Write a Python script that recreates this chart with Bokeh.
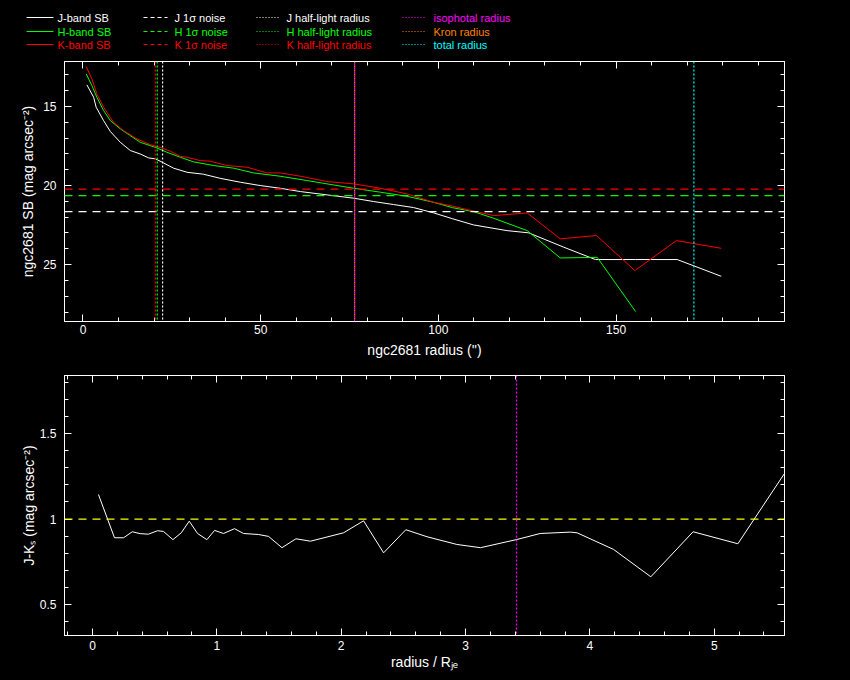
from bokeh.plotting import figure
from bokeh.models import (Range1d, Span, LinearAxis, SingleIntervalTicker,
                          PrintfTickFormatter, CustomJSTickFormatter, ColumnDataSource)
from bokeh.layouts import column
from bokeh.embed import file_html
from bokeh.resources import INLINE
from bokeh.core.properties import value

# ---------------- data ----------------
j_r = [1.1, 3.0, 3.7, 5.8, 7.7, 10.5, 13.3, 16.1, 18.5, 20.4, 22.7, 25.5, 29.3, 33.9,
       38.6, 44.3, 49.9, 55.5, 61.2, 68.7, 76.2, 81.8, 87.4, 93.0, 98.7, 104.0, 109.9,
       119.3, 125.4, 135.3, 144.2, 155.5, 167.2, 179.6]
j_sb = [13.63, 14.41, 15.04, 15.89, 16.58, 17.26, 17.78, 18.0, 18.25, 18.31, 18.57, 18.9,
        19.16, 19.28, 19.54, 19.79, 20.0, 20.17, 20.38, 20.59, 20.8, 21.01, 21.2, 21.39,
        21.73, 22.1, 22.49, 22.85, 22.99, 23.9, 24.68, 24.68, 24.68, 25.74]

h_r = [0.9, 2.5, 3.9, 5.8, 7.7, 10.5, 13.3, 16.1, 18.9, 20.8, 23.6, 27.4, 31.1, 36.8,
       42.4, 48.0, 55.5, 63.0, 70.5, 76.2, 83.7, 91.2, 98.7, 104.0, 109.9, 115.6, 125.0,
       134.3, 144.7, 155.5]
h_sb = [12.93, 13.67, 14.41, 15.25, 15.89, 16.41, 16.84, 17.26, 17.47, 17.62, 17.89, 18.21,
        18.5, 18.73, 18.9, 19.2, 19.41, 19.68, 19.96, 20.17, 20.42, 20.68, 21.06, 21.4,
        21.65, 22.07, 22.85, 24.58, 24.54, 27.97]

k_r = [0.9, 2.5, 3.9, 5.8, 8.6, 11.4, 15.2, 18.9, 22.2, 24.6, 27.4, 29.3, 33.0, 35.8,
       40.5, 46.2, 51.8, 55.5, 61.2, 68.7, 76.2, 83.7, 91.2, 98.7, 104.0, 108.1, 115.6,
       125.0, 134.3, 144.5, 155.3, 167.0, 179.6]
k_sb = [12.47, 13.25, 14.2, 15.04, 16.0, 16.52, 17.05, 17.41, 17.62, 17.83, 18.15, 18.21,
        18.42, 18.46, 18.73, 18.84, 19.2, 19.2, 19.41, 19.75, 19.89, 20.17, 20.53, 21.06,
        21.3, 21.52, 21.9, 21.73, 23.37, 23.16, 25.38, 23.48, 23.97]

noise_j, noise_h, noise_k = 21.65, 20.63, 20.23
rhalf_j, rhalf_h, rhalf_k = 22.4, 20.9, 20.35
r_iso, r_kron, r_total = 76.45, 76.45, 171.9

jk_rel = [0.048, 0.177, 0.25, 0.32, 0.384, 0.45, 0.523, 0.571, 0.647, 0.714, 0.778, 0.845,
          0.92, 0.982, 1.054, 1.142, 1.215, 1.335, 1.416, 1.524, 1.636, 1.753, 2.019, 2.18,
          2.341, 2.52, 2.69, 2.93, 3.12, 3.414, 3.60, 3.843, 3.897, 4.19, 4.49, 4.83, 5.19,
          5.565]
jk_col = [1.144, 0.891, 0.891, 0.926, 0.915, 0.912, 0.932, 0.928, 0.88, 0.92, 0.988, 0.916,
          0.88, 0.934, 0.916, 0.944, 0.916, 0.91, 0.899, 0.833, 0.885, 0.871, 0.92, 0.99,
          0.803, 0.938, 0.897, 0.852, 0.833, 0.881, 0.916, 0.924, 0.92, 0.823, 0.663, 0.926,
          0.856, 1.267]
jk_ref = 1.0
iso_rel = 3.41

leg_labels = [["J-band SB", "H-band SB", "K-band SB"],
              ["J 1\u03c3 noise", "H 1\u03c3 noise", "K 1\u03c3 noise"],
              ["J half-light radius", "H half-light radius", "K half-light radius"],
              ["isophotal radius", "Kron radius", "total radius"]]

WHITE, GREEN, RED = "#ffffff", "#00ff00", "#ff0000"
MAGENTA, ORANGE, CYAN, YELLOW = "#ff00ff", "#ff8000", "#00ffff", "#ffff00"
leg_colors = [[WHITE, GREEN, RED]] * 3 + [[MAGENTA, ORANGE, CYAN]]
leg_dash = ["solid", "4 3", "1 2", "1 2"]

FONT = "Liberation Sans"
W = 850
DASH = "8 6"
DOT = "2 2"
BLACK_STYLE = {"background-color": "black"}


def base_fig(h, xr, yr, bt, bb):
    p = figure(width=W, height=h, x_range=xr, y_range=yr, output_backend="svg",
               toolbar_location=None, x_axis_type=None, y_axis_type=None,
               min_border_left=64, min_border_right=66, min_border_top=bt,
               min_border_bottom=bb, background_fill_color="black",
               border_fill_color="black", outline_line_color="white",
               styles=BLACK_STYLE)
    return p


def add_axis(p, side, interval, label=None, show=True, standoff=6, lab_standoff=4):
    fmt = PrintfTickFormatter(format="%g") if show else CustomJSTickFormatter(code="return ''")
    ax = LinearAxis(ticker=SingleIntervalTicker(interval=interval, num_minor_ticks=5),
                    formatter=fmt)
    ax.axis_line_color = "white"
    ax.major_tick_line_color = "white"
    ax.minor_tick_line_color = "white"
    ax.major_tick_in = 7
    ax.major_tick_out = 0
    ax.minor_tick_in = 4
    ax.minor_tick_out = 0
    ax.major_label_text_color = "white"
    ax.major_label_text_font = FONT
    ax.major_label_text_font_size = "12px"
    ax.major_label_standoff = standoff if show else 0
    if label:
        ax.axis_label = label
        ax.axis_label_text_color = "white"
        ax.axis_label_text_font = FONT
        ax.axis_label_text_font_size = "14px"
        ax.axis_label_text_font_style = "normal"
        ax.axis_label_standoff = lab_standoff
    p.add_layout(ax, side)


# ---------------- legend strip ----------------
LH = 53
leg = figure(width=W, height=LH, x_range=Range1d(0, W), y_range=Range1d(LH, 0),
             output_backend="svg", toolbar_location=None, x_axis_type=None,
             y_axis_type=None, min_border_left=0, min_border_right=0,
             min_border_top=0, min_border_bottom=0, background_fill_color="black",
             border_fill_color="black", outline_line_color=None, styles=BLACK_STYLE)
leg.frame_align = False
col_x0 = [26, 143, 256, 402]
col_x1 = [53, 167, 280, 426]
col_tx = [57, 174, 286, 433]
row_y = [17, 31, 44]
for c in range(4):
    for r in range(3):
        leg.segment(x0=col_x0[c], y0=row_y[r], x1=col_x1[c], y1=row_y[r],
                    line_color=leg_colors[c][r], line_width=1.2, line_dash=leg_dash[c])
    src = ColumnDataSource(dict(x=[col_tx[c]] * 3, y=row_y, t=leg_labels[c],
                                col=leg_colors[c]))
    leg.text(x="x", y="y", text="t", text_color="col", source=src,
             text_font=value(FONT), text_font_size=value("11px"),
             text_baseline="middle", text_align="left")

# ---------------- top: surface brightness ----------------
top = base_fig(314, Range1d(-5.2, 197.4), Range1d(28.6, 12.15), bt=8, bb=46)
top.line(j_r, j_sb, line_color=WHITE, line_width=1)
top.line(h_r, h_sb, line_color=GREEN, line_width=1)
top.line(k_r, k_sb, line_color=RED, line_width=1)
for loc, col in [(noise_j, WHITE), (noise_h, GREEN), (noise_k, RED)]:
    top.add_layout(Span(location=loc, dimension="width", line_color=col,
                        line_dash=DASH, line_width=1.2))
for loc, col in [(rhalf_k, RED), (rhalf_h, GREEN), (rhalf_j, WHITE)]:
    top.add_layout(Span(location=loc, dimension="height", line_color=col,
                        line_dash=DOT, line_width=1.2))
top.add_layout(Span(location=r_kron, dimension="height", line_color=ORANGE,
                    line_dash=DOT, line_width=1.2))
top.add_layout(Span(location=r_iso, dimension="height", line_color=MAGENTA,
                    line_dash=DOT, line_dash_offset=2, line_width=1.2))
top.add_layout(Span(location=r_total, dimension="height", line_color=CYAN,
                    line_dash=DOT, line_width=1.2))
add_axis(top, "below", 50, "ngc2681 radius ('')", standoff=3, lab_standoff=5)
add_axis(top, "left", 5, "ngc2681 SB (mag arcsec\u207b\u00b2)", standoff=8, lab_standoff=4)
add_axis(top, "above", 50, show=False)
add_axis(top, "right", 5, show=False)

# ---------------- bottom: colour profile ----------------
bot = base_fig(313, Range1d(-0.225, 5.565), Range1d(0.32, 1.839), bt=8, bb=45)
bot.line(jk_rel, jk_col, line_color=WHITE, line_width=1)
bot.add_layout(Span(location=jk_ref, dimension="width", line_color=YELLOW,
                    line_dash=DASH, line_width=1.2))
bot.add_layout(Span(location=iso_rel, dimension="height", line_color=MAGENTA,
                    line_dash=DOT, line_width=1.2))
add_axis(bot, "below", 1, "radius / R\u2c7c\u2091", standoff=5, lab_standoff=1)
add_axis(bot, "left", 0.5, "J-K\u209b (mag arcsec\u207b\u00b2)", standoff=8, lab_standoff=0)
add_axis(bot, "above", 1, show=False)
add_axis(bot, "right", 0.5, show=False)

layout = column(leg, top, bot, spacing=0, styles=BLACK_STYLE)
open("out.html", "w").write(file_html(layout, INLINE))
